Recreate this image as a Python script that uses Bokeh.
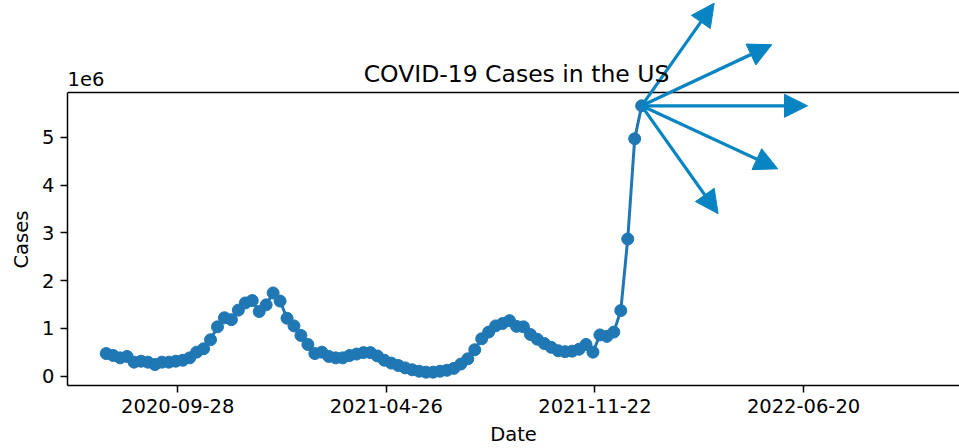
import pandas as pd
from bokeh.plotting import figure
from bokeh.models import (Range1d, FixedTicker, DatetimeTickFormatter, CustomJSTickFormatter,
                          Span, Arrow, NormalHead, Label, Title, ColumnDataSource)
from bokeh.embed import file_html
from bokeh.resources import INLINE

# Weekly new COVID-19 cases in the US, one value per week starting on first_week
first_week = "2020-07-18"
weekly_cases = [
    470000, 430000, 380000, 410000, 290000, 310000, 290000, 240000, 290000, 290000,
    310000, 330000, 380000, 500000, 570000, 760000, 1030000, 1220000, 1180000, 1380000,
    1530000, 1580000, 1350000, 1490000, 1740000, 1570000, 1210000, 1050000, 850000, 660000,
    470000, 500000, 410000, 380000, 380000, 430000, 460000, 490000, 490000, 420000,
    330000, 270000, 220000, 170000, 130000, 100000, 80000, 80000, 100000, 120000,
    160000, 250000, 360000, 550000, 780000, 920000, 1050000, 1100000, 1160000, 1040000,
    1030000, 870000, 770000, 680000, 600000, 530000, 510000, 520000, 560000, 660000,
    500000, 860000, 830000, 920000, 1370000, 2870000, 4970000, 5660000,
]

x_tick_dates = ["2020-09-28", "2021-04-26", "2021-11-22", "2022-06-20"]
y_tick_values = [0, 1000000, 2000000, 3000000, 4000000, 5000000]
x_limits = ("2020-06-09", "2022-11-24")

# Fan of arrows leaving the latest week: days ahead and change in cases
arrow_days = [73, 131, 167, 137, 77]
arrow_cases = [2150000, 1280000, 0, -1320000, -2260000]

LINE_COLOR = "#1f77b4"
ARROW_COLOR = "#0784c1"
FONT = "DejaVu Sans"
TICK_SIZE = "19.5px"

# page geometry (pixels): the boxed axes sit between AXES_TOP and AXES_BOTTOM,
# while the drawing area reaches up to the top of the page so that the arrows,
# the title and the scale label above the box are not cut off
WIDTH, HEIGHT = 959, 448
AXES_LEFT, AXES_TOP, AXES_BOTTOM = 66, 92, 385

dates = pd.date_range(first_week, periods=len(weekly_cases), freq="7D")
series = ColumnDataSource(dict(date=dates, cases=weekly_cases))

lo, hi = min(weekly_cases), max(weekly_cases)
pad = 0.05 * (hi - lo)
y_bottom, y_top = lo - pad, hi + pad
per_px = (y_top - y_bottom) / (AXES_BOTTOM - AXES_TOP)
y_canvas_top = y_top + AXES_TOP * per_px
x0, x1 = pd.Timestamp(x_limits[0]), pd.Timestamp(x_limits[1])

p = figure(width=WIDTH, height=HEIGHT, x_axis_type="datetime",
           output_backend="svg", toolbar_location=None,
           x_range=Range1d(x0, x1), y_range=Range1d(y_bottom, y_canvas_top),
           min_border_left=AXES_LEFT, min_border_right=0,
           min_border_top=0, min_border_bottom=HEIGHT - AXES_BOTTOM)
p.title.visible = False
p.outline_line_color = None
p.grid.visible = False
p.background_fill_color = "white"
p.border_fill_color = "white"

p.line("date", "cases", source=series, line_color=LINE_COLOR, line_width=3)
p.scatter("date", "cases", source=series, size=12, fill_color=LINE_COLOR,
          line_color=LINE_COLOR)

xa = p.xaxis[0]
xa.ticker = FixedTicker(ticks=[pd.Timestamp(d).value / 1e6 for d in x_tick_dates])
fmt = "%Y-%m-%d"
xa.formatter = DatetimeTickFormatter(days=fmt, months=fmt, years=fmt, hours=fmt,
                                     minutes=fmt, seconds=fmt, milliseconds=fmt,
                                     microseconds=fmt, hourmin=fmt, minsec=fmt)
xa.axis_label = "Date"

ya = p.yaxis[0]
ya.ticker = FixedTicker(ticks=y_tick_values)
ya.formatter = CustomJSTickFormatter(code="return (tick / 1e6).toFixed(0);")
ya.bounds = (y_bottom, y_top)

for ax in (xa, ya):
    ax.axis_line_color = "black"
    ax.axis_line_width = 1.5
    ax.major_tick_line_color = "black"
    ax.major_tick_line_width = 1.5
    ax.major_tick_out = 7
    ax.major_tick_in = 0
    ax.minor_tick_out = 0
    ax.minor_tick_in = 0
    ax.major_label_text_font = FONT
    ax.major_label_text_font_size = TICK_SIZE
    ax.major_label_text_color = "black"
    ax.major_label_standoff = 6
    ax.axis_label_text_font = FONT
    ax.axis_label_text_font_size = TICK_SIZE
    ax.axis_label_text_font_style = "normal"
    ax.axis_label_text_color = "black"
    ax.axis_label_standoff = 7

# y-axis caption, centred on the boxed part of the axis
p.add_layout(Title(text="Cases", align="left", offset=117, standoff=14,
                   text_font=FONT, text_font_size=TICK_SIZE, text_font_style="normal",
                   text_color="black"), "left")

# top edge of the axes box
p.add_layout(Span(location=y_top, dimension="width", line_color="black", line_width=1.5))

# arrows from the most recent point
last_date, last_val = dates[-1], weekly_cases[-1]
arrows = ColumnDataSource(dict(
    x0=[last_date] * len(arrow_days),
    y0=[last_val] * len(arrow_days),
    x1=[last_date + pd.Timedelta(days=d) for d in arrow_days],
    y1=[last_val + c for c in arrow_cases],
))
p.add_layout(Arrow(source=arrows, x_start="x0", y_start="y0", x_end="x1", y_end="y1",
                   line_color=ARROW_COLOR, line_width=3.2,
                   end=NormalHead(size=23, fill_color=ARROW_COLOR, line_color=ARROW_COLOR,
                                  line_width=1)))

# chart title, centred over the axes box
p.add_layout(Label(x=x0 + (x1 - x0) / 2, y=y_top, x_offset=3, y_offset=19,
                   text="COVID-19 Cases in the US", text_font=FONT, text_font_size="23.5px",
                   text_color="black", text_align="center", text_baseline="alphabetic"))

# scale factor shown above the y axis
p.add_layout(Label(x=x0, y=y_top, x_offset=0, y_offset=14, text="1e6",
                   text_font=FONT, text_font_size=TICK_SIZE, text_color="black",
                   text_baseline="alphabetic", text_align="left"))

open("out.html", "w").write(file_html(p, INLINE))
